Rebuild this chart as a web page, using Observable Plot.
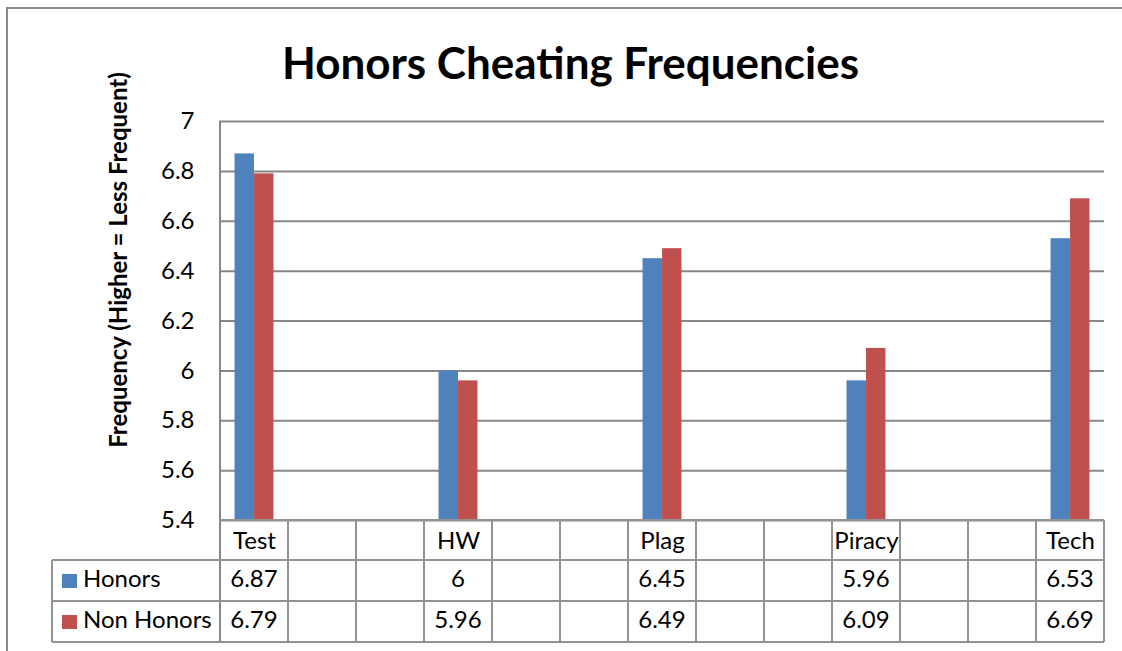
<!DOCTYPE html>
<html>
<head>
<meta charset="utf-8">
<script src="https://cdn.jsdelivr.net/npm/d3@7"></script>
<script src="https://cdn.jsdelivr.net/npm/@observablehq/plot@0.6"></script>
<style>
  html, body { margin: 0; padding: 0; background: #fff; }
  #wrap { position: relative; width: 1122px; height: 651px; overflow: hidden; background: #fff; font-family: Lato, "Open Sans", sans-serif; }
  #frame { position: absolute; left: 6px; top: 7px; width: 1300px; height: 800px; border: 2px solid #8a8a8a; box-sizing: border-box; }
  #title { position: absolute; left: 0; width: 1141px; top: 36px; text-align: center; font: bold 44px Lato, sans-serif; line-height: 1.2; color: #000; white-space: nowrap; }
  #ylabel { position: absolute; left: 118px; top: 260px; transform: translate(-50%, -50%) rotate(-90deg); font: bold 24px Lato, sans-serif; line-height: 1.2; white-space: nowrap; color: #000; }
  #chart svg { position: absolute; left: 0; top: 0; }
</style>
</head>
<body>
<div id="wrap">
  <div id="frame"></div>
  <div id="chart"></div>
  <div id="title"></div>
  <div id="ylabel"></div>
</div>
<script>
// ---- data ----
const chartTitle = "Honors Cheating Frequencies";
const yLabel = "Frequency (Higher = Less Frequent)";
const categories = ["Test", "HW", "Plag", "Piracy", "Tech"];
const honors = [6.87, 6, 6.45, 5.96, 6.53];
const nonHonors = [6.79, 5.96, 6.49, 6.09, 6.69];
const seriesNames = ["Honors", "Non Honors"];
const seriesColors = ["#4F81BD", "#C0504D"];
const yTicks = [5.4, 5.6, 5.8, 6, 6.2, 6.4, 6.6, 6.8, 7];
const blanksBetween = 2;

// ---- derived ----
const slots = [];
categories.forEach((c, i) => {
  slots.push(c);
  if (i < categories.length - 1) for (let k = 0; k < blanksBetween; k++) slots.push(`_${i}_${k}`);
});
const seriesValues = [honors, nonHonors];
const rows = categories.flatMap((c, i) => seriesNames.map((s, j) => ({cat: c, series: s, value: seriesValues[j][i]})));

document.getElementById("title").textContent = chartTitle;
document.getElementById("ylabel").textContent = yLabel;

const W = 1122, H = 651, mL = 219, mR = 18, mT = 121, mB = 131;
const bw = (W - mL - mR) / slots.length;
const barW = 19.5;
const sideInset = bw / 2 - barW;
const gridColor = "#878787";
const fs = 24;

const plot = Plot.plot({
  width: W, height: H,
  marginLeft: mL, marginRight: mR, marginTop: mT, marginBottom: mB,
  style: {background: "transparent", fontFamily: "Lato, sans-serif", color: "#000", overflow: "visible"},
  x: {domain: slots, padding: 0},
  y: {domain: [yTicks[0], yTicks[yTicks.length - 1]]},
  color: {domain: seriesNames, range: seriesColors},
  marks: [
    Plot.ruleY(yTicks, {stroke: gridColor, strokeWidth: 2}),
    Plot.barY(rows.filter(d => d.series === seriesNames[0]), {x: "cat", y1: yTicks[0], y2: "value", fill: "series", insetLeft: sideInset, insetRight: bw / 2}),
    Plot.barY(rows.filter(d => d.series === seriesNames[1]), {x: "cat", y1: yTicks[0], y2: "value", fill: "series", insetLeft: bw / 2, insetRight: sideInset}),
    Plot.axisY({ticks: yTicks, tickSize: 0, tickPadding: 25, fontSize: fs, label: null, tickFormat: d => String(d)}),
    Plot.axisX({tickSize: 0, tickPadding: 11, fontSize: fs, label: null, tickFormat: d => d.startsWith("_") ? "" : d})
  ]
});
document.getElementById("chart").append(plot);

// ---- data table drawn beneath, aligned to the plot's scales ----
const xs = plot.scale("x"), ys = plot.scale("y");
const x0 = xs.apply(slots[0]);
const x1 = xs.apply(slots[slots.length - 1]) + xs.bandwidth;
const yTop = ys.apply(yTicks[yTicks.length - 1]);
const yBase = ys.apply(yTicks[0]);
const rowBounds = [yBase, yBase + 40, yBase + 81, yBase + 122];
const legendLeft = 52;
const lineColor = "#939393";

const svg = d3.select(plot);
const g = svg.append("g").attr("class", "data-table");

g.append("line").attr("x1", x0).attr("x2", x0).attr("y1", yTop).attr("y2", rowBounds[3])
  .attr("stroke", gridColor).attr("stroke-width", 2);
slots.forEach((s) => {
  const x = xs.apply(s) + xs.bandwidth;
  g.append("line").attr("x1", x).attr("x2", x).attr("y1", rowBounds[0]).attr("y2", rowBounds[3])
    .attr("stroke", lineColor).attr("stroke-width", 2);
});
g.append("line").attr("x1", legendLeft).attr("x2", legendLeft).attr("y1", rowBounds[1]).attr("y2", rowBounds[3])
  .attr("stroke", lineColor).attr("stroke-width", 2);
g.append("line").attr("x1", x0).attr("x2", x1).attr("y1", rowBounds[0]).attr("y2", rowBounds[0])
  .attr("stroke", lineColor).attr("stroke-width", 2);
rowBounds.slice(1).forEach(y => {
  g.append("line").attr("x1", legendLeft).attr("x2", x1).attr("y1", y).attr("y2", y)
    .attr("stroke", lineColor).attr("stroke-width", 2);
});

seriesNames.forEach((s, j) => {
  const top = rowBounds[j + 1];
  g.append("rect").attr("x", 62).attr("y", top + 14).attr("width", 15).attr("height", 14).attr("fill", seriesColors[j]);
  g.append("text").attr("x", 83).attr("y", top + 27).attr("text-anchor", "start").attr("font-size", fs)
    .attr("font-family", "Lato, sans-serif").attr("fill", "#000").text(s);
  categories.forEach((c, i) => {
    g.append("text").attr("x", xs.apply(c) + xs.bandwidth / 2).attr("y", top + 27)
      .attr("text-anchor", "middle").attr("font-size", fs).attr("font-family", "Lato, sans-serif")
      .attr("fill", "#000").text(String(seriesValues[j][i]));
  });
});
</script>
</body>
</html>
